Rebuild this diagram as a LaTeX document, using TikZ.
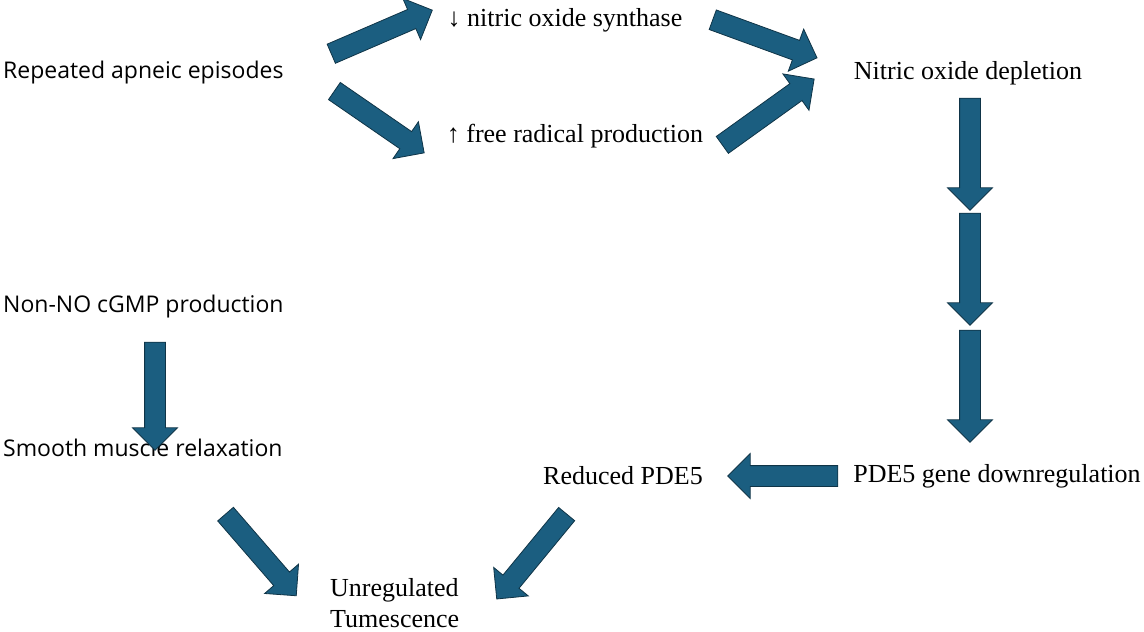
\documentclass[tikz,border=0pt]{standalone}
\usepackage{fontspec}
\setmainfont{Liberation Serif}
\setsansfont{Open Sans}
\usetikzlibrary{shapes.arrows,calc}
\definecolor{arrowblue}{HTML}{1B5E80}
\definecolor{arrowedge}{HTML}{0F3447}

\begin{document}
\begin{tikzpicture}[x=1pt,y=-1pt]
\tikzset{lbl/.style={inner sep=0pt, font=\fontsize{26}{31}\selectfont},
lblsans/.style={lbl, font=\sffamily\fontsize{23}{28}\selectfont},
blk/.style={single arrow, draw=arrowedge, fill=arrowblue, thick,
minimum width=44pt, single arrow head extend=12pt, inner sep=10pt}}
\newcommand\blockarrow[3]{\path let \p1=($(#2)-(#1)$), \n1={atan2(\y1,\x1)} in
node [blk, rotate=\n1, minimum height=#3] at ($(#1)!0.5!(#2)$) {};}
\useasboundingbox (0,0) rectangle (1144,632);
% texts
\node [lblsans, anchor=west] (apnea) at (3,73) {Repeated apneic episodes};
\node [lbl] (nos) at (565,20) {↓ nitric oxide synthase};
\node [lbl] (radical) at (575,136) {↑ free radical production};
\node [lbl] (depletion) at (968,73) {Nitric oxide depletion};
\node [lblsans, anchor=west] (cgmp) at (3,307) {Non-NO cGMP production};
\node [lblsans, anchor=west] (smooth) at (3,448) {Smooth muscle relaxation};
\node [lbl] (reduced) at (623,476) {Reduced PDE5};
\node [lbl] (gene) at (997,476) {PDE5 gene downregulation};
\node [lbl, align=left, anchor=north west] (tumes) at (330,578) {Unregulated\\Tumescence};
% arrow ends
\coordinate (a1) at (326,56); \coordinate (b1) at (428,12);
\coordinate (a2) at (330,88); \coordinate (b2) at (420,150);
\coordinate (a3) at (708,18); \coordinate (b3) at (812,56);
\coordinate (a4) at (718,148); \coordinate (b4) at (810,82);
\coordinate (a5) at (970,93); \coordinate (b5) at (970,205);
\coordinate (a6) at (970,208); \coordinate (b6) at (970,320);
\coordinate (a7) at (970,325); \coordinate (b7) at (970,437);
\coordinate (a8) at (843,476); \coordinate (b8) at (733,476);
\coordinate (a9) at (155,337); \coordinate (b9) at (155,445);
\coordinate (a10) at (222,510); \coordinate (b10) at (293,592);
\coordinate (a11) at (570,510); \coordinate (b11) at (500,595);
\blockarrow{a1}{b1}{110pt}
\blockarrow{a2}{b2}{109pt}
\blockarrow{a3}{b3}{111pt}
\blockarrow{a4}{b4}{113pt}
\blockarrow{a5}{b5}{112pt}
\blockarrow{a6}{b6}{112pt}
\blockarrow{a7}{b7}{112pt}
\blockarrow{a8}{b8}{110pt}
\blockarrow{a9}{b9}{108pt}
\blockarrow{a10}{b10}{108pt}
\blockarrow{a11}{b11}{110pt}
\end{tikzpicture}
\end{document}
